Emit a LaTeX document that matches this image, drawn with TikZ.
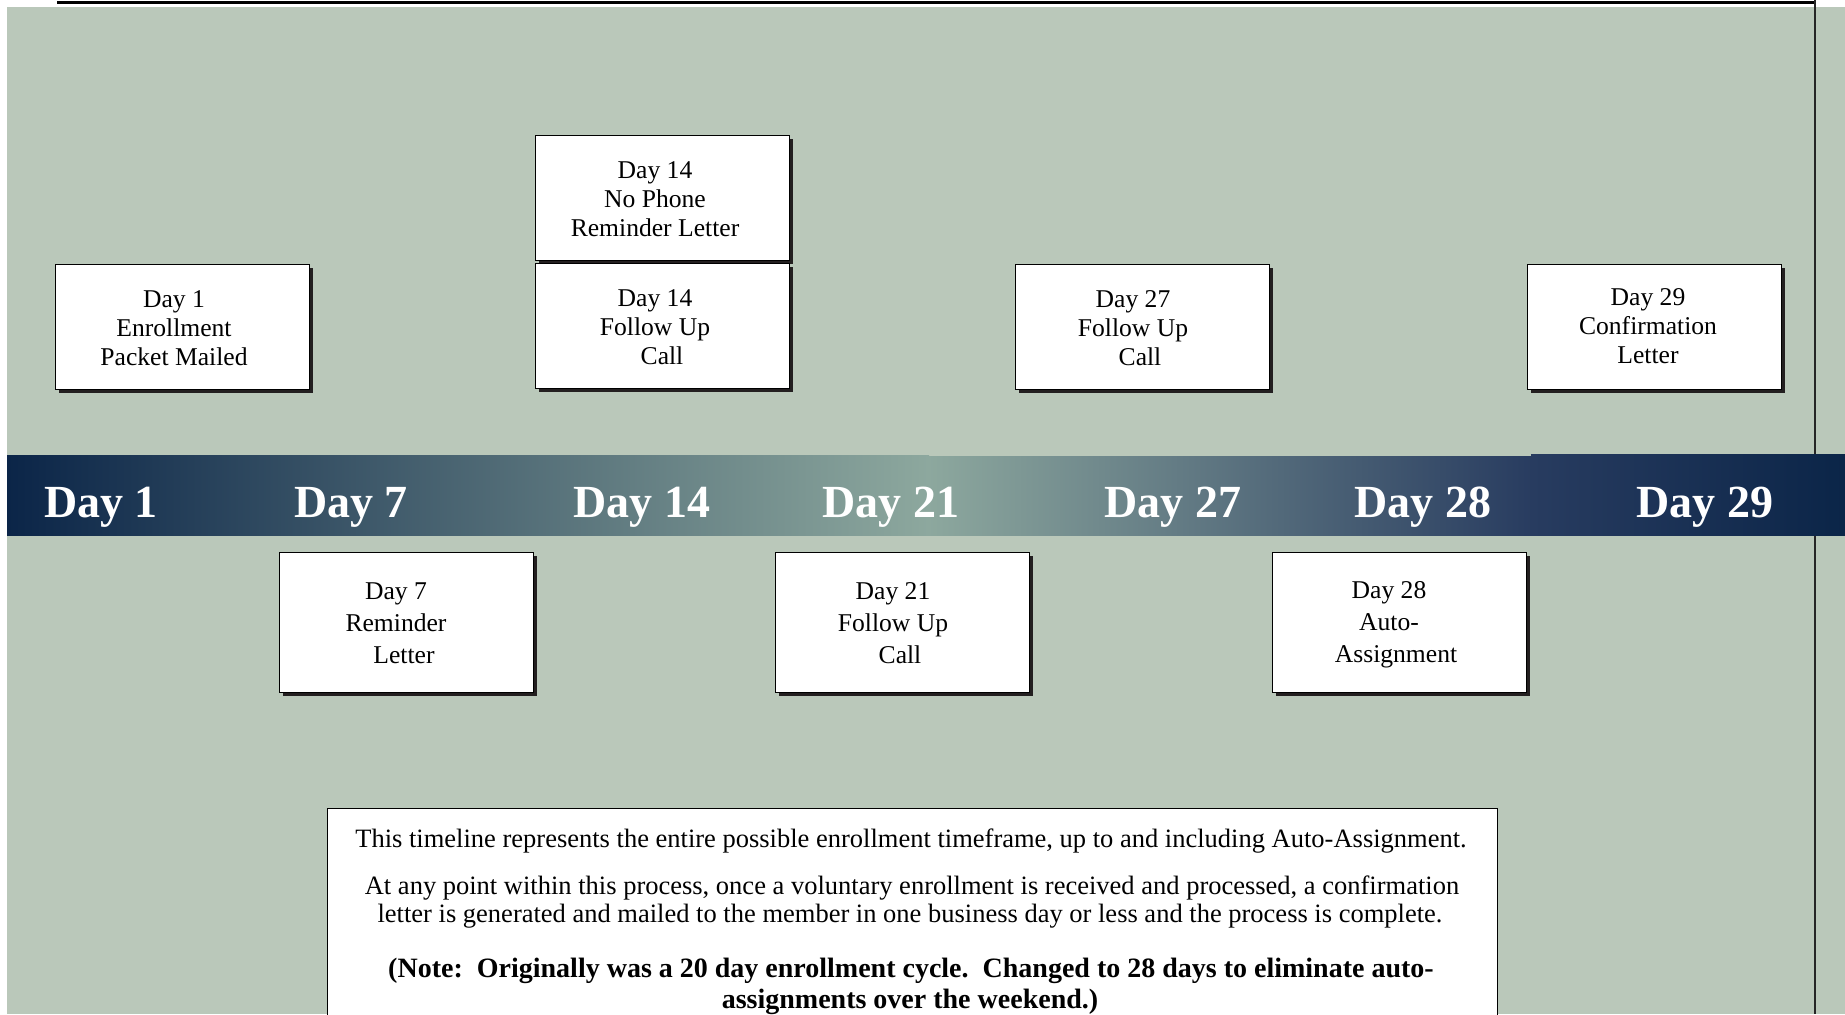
\documentclass[tikz,border=0pt]{standalone}
\usepackage{fontspec}
\setmainfont{Liberation Serif}
\usetikzlibrary{shadows}
\definecolor{bg}{RGB}{186,200,186}
\definecolor{navy}{RGB}{11,37,72}
\definecolor{mist}{RGB}{141,168,158}
\definecolor{midnavy}{RGB}{40,60,96}
\definecolor{shadowc}{RGB}{35,31,32}
\begin{document}
\begin{tikzpicture}[x=0.5pt,y=-0.5pt,
  evbox/.style={draw=black, line width=0.5pt, fill=white, minimum width=127pt, minimum height=62.5pt, inner sep=0pt,
    drop shadow={shadow xshift=1.8pt, shadow yshift=-1.8pt, fill=shadowc, opacity=1}},
  evboxlow/.style={evbox, minimum height=70pt},
  evtext/.style={align=center, font=\fontsize{12.8}{14.5}\selectfont, inner sep=0pt},
  evtextlow/.style={align=center, font=\fontsize{12.8}{16}\selectfont, inner sep=0pt},
  daylbl/.style={anchor=base, text=white, font=\fontsize{23}{26}\selectfont\bfseries, inner sep=0pt},
  notetxt/.style={anchor=base, font=\fontsize{13.25}{14}\selectfont, inner sep=0pt},
  notebold/.style={anchor=base, font=\fontsize{14}{15}\selectfont\bfseries, inner sep=0pt}
]
\useasboundingbox (0,0) rectangle (1845,1014);
% background
\fill[bg] (7,7) rectangle (1845,1014);
\draw[line width=1.2pt] (57,2.5) -- (1815,2.5);
\draw[line width=0.7pt, black!85] (1815,0) -- (1815,1014);

% timeline band
\shade[left color=navy, right color=mist] (7,455) rectangle (929,535);
\shade[left color=mist, right color=midnavy] (928,456) rectangle (1532,535);
\shade[left color=midnavy, right color=navy] (1531,454) rectangle (1845,535);

\node[daylbl] (d1)  at (101,517)  {Day 1};
\node[daylbl] (d7)  at (351,517)  {Day 7};
\node[daylbl] (d14) at (642,517)  {Day 14};
\node[daylbl] (d21) at (891,517)  {Day 21};
\node[daylbl] (d27) at (1173,517) {Day 27};
\node[daylbl] (d28) at (1423,517) {Day 28};
\node[daylbl] (d29) at (1705,517) {Day 29};

% upper boxes
\node[evbox] (b1)   at (182,326.5)  {};
\node[evbox] (b14a) at (662,197.5)  {};
\node[evbox] (b14b) at (662,325.5)  {};
\node[evbox] (b27)  at (1142,326.5) {};
\node[evbox] (b29)  at (1654,326.5) {};
\node[evtext] (t1)   at ([xshift=-4pt,yshift=-1pt]b1.center)   {Day 1\\Enrollment\\Packet Mailed};
\node[evtext] (t14a) at ([xshift=-3.5pt,yshift=-1pt]b14a.center) {Day 14\\No Phone\\Reminder Letter};
\node[evtext] (t14b) at ([xshift=-3.5pt,yshift=-1pt]b14b.center) {Day 14\\Follow Up\\\hspace*{7pt}Call};
\node[evtext] (t27)  at ([xshift=-4.5pt,yshift=-1pt]b27.center)  {Day 27\\Follow Up\\\hspace*{7pt}Call};
\node[evtext] (t29)  at ([xshift=-3pt,yshift=0pt]b29.center)   {Day 29\\Confirmation\\Letter};

% lower boxes
\node[evboxlow] (b7)  at (406,622)  {};
\node[evboxlow] (b21) at (902,622)  {};
\node[evboxlow] (b28) at (1399,622) {};
\node[evtextlow] (t7)  at ([xshift=-5pt,yshift=-0.5pt]b7.center)  {Day 7\\Reminder\\\hspace*{8pt}Letter};
\node[evtextlow] (t21) at ([xshift=-4.5pt,yshift=-0.5pt]b21.center) {Day 21\\Follow Up\\\hspace*{7pt}Call};
\node[evtextlow] (t28) at ([xshift=-5pt,yshift=-1.5pt]b28.center) {Day 28\\Auto-\\\hspace*{7pt}Assignment};

% note box
\draw[fill=white, line width=0.5pt] (327,808) rectangle (1497,1030);
\node[notetxt] (n1) at (911,847) {This timeline represents the entire possible enrollment timeframe, up to and including Auto-Assignment.};
\node[notetxt] (n2) at (912,894) {At any point within this process, once a voluntary enrollment is received and processed, a confirmation};
\node[notetxt] (n3) at (910,922) {letter is generated and mailed to the member in one business day or less and the process is complete.};
\node[notebold] (n4) at (911,977) {(Note:\ \ Originally was a 20 day enrollment cycle.\ \ Changed to 28 days to eliminate auto-};
\node[notebold] (n5) at (910,1008) {assignments over the weekend.)};
\end{tikzpicture}
\end{document}
